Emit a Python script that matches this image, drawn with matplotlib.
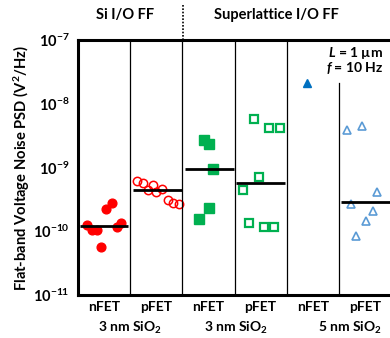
import numpy as np
import matplotlib.pyplot as plt

plt.rcParams['font.family'] = ['Lato', 'DejaVu Sans']
plt.rcParams['font.weight'] = 'bold'
plt.rcParams['mathtext.fontset'] = 'custom'
plt.rcParams['mathtext.rm'] = 'Lato:bold'
plt.rcParams['mathtext.it'] = 'Lato:bold:italic'
plt.rcParams['mathtext.bf'] = 'Lato:bold'

# column layout: 0 Si nFET, 1 Si pFET, 2 SL nFET 3nm, 3 SL pFET 3nm, 4 SL nFET 5nm, 5 SL pFET 5nm
col_labels = ["nFET", "pFET", "nFET", "pFET", "nFET", "pFET"]
ytick_vals = [1e-7, 1e-8, 1e-9, 1e-10, 1e-11]

# x offsets within each column and PSD values (V^2/Hz)
si_n_x = [0.17, 0.27, 0.36, 0.44, 0.54, 0.65, 0.75, 0.82]
si_n_y = [1.25e-10, 1.05e-10, 1.05e-10, 5.7e-11, 2.2e-10, 2.8e-10, 1.17e-10, 1.35e-10]
si_n_mean = 1.2e-10

si_p_x = [0.13, 0.25, 0.34, 0.44, 0.50, 0.61, 0.73, 0.82, 0.94]
si_p_y = [6.1e-10, 5.7e-10, 4.4e-10, 5.3e-10, 4.1e-10, 4.6e-10, 3.1e-10, 2.8e-10, 2.7e-10]
si_p_mean = 4.4e-10

sl3_n_x = [0.42, 0.51, 0.59, 0.51, 0.32]
sl3_n_y = [2.7e-9, 2.3e-9, 9.5e-10, 2.3e-10, 1.55e-10]
sl3_n_mean = 9.5e-10

sl3_p_x = [0.16, 0.28, 0.37, 0.47, 0.57, 0.66, 0.76, 0.87]
sl3_p_y = [4.4e-10, 1.35e-10, 5.8e-9, 7.1e-10, 1.17e-10, 4.2e-9, 1.17e-10, 4.2e-9]
sl3_p_mean = 5.7e-10

sl5_n_x = [0.39]
sl5_n_y = [2.1e-8]

sl5_p_x = [0.16, 0.23, 0.33, 0.44, 0.52, 0.65, 0.73]
sl5_p_y = [3.9e-9, 2.7e-10, 8.4e-11, 4.5e-9, 1.45e-10, 2.1e-10, 4.1e-10]
sl5_p_mean = 2.9e-10

fig = plt.figure(figsize=(3.9, 3.38), dpi=100)
W, H = 390, 338
ax = fig.add_axes([78 / W, 1 - 295 / H, 313 / W, 255 / H])
ax.set_yscale('log')
ax.set_ylim(1e-11, 1e-7)
ax.set_xlim(0, 6)
ax.patch.set_alpha(0)

red, green, blue, lblue = '#FF0000', '#00B050', '#0070C0', '#5B9BD5'
ax.plot(np.array(si_n_x) + 0, si_n_y, 'o', ms=6.3, color=red, mec=red)
ax.plot(np.array(si_p_x) + 1, si_p_y, 'o', ms=6, mfc='none', mec=red, mew=1.1)
ax.plot(np.array(sl3_n_x) + 2, sl3_n_y, 's', ms=6.5, color=green)
ax.plot(np.array(sl3_p_x) + 3, sl3_p_y, 's', ms=6.3, mfc='none', mec=green, mew=1.6)
ax.plot(np.array(sl5_n_x) + 4, sl5_n_y, '^', ms=6.3, color=blue)
ax.plot(np.array(sl5_p_x) + 5, sl5_p_y, '^', ms=6.3, mfc='none', mec=lblue, mew=1.2)

# mean bars: column, value, start and end within column
means = [(0, si_n_mean, 0.04, 0.96), (1, si_p_mean, 0.05, 0.99),
         (2, sl3_n_mean, 0.05, 0.99), (3, sl3_p_mean, 0.03, 0.97),
         (5, sl5_p_mean, 0.04, 1.0)]
for c, m, a, b in means:
    ax.plot([c + a, c + b], [m, m], color='black', lw=2, solid_capstyle='butt')

for xb in [1, 2, 3, 4]:
    ax.axvline(xb, color='black', lw=0.9)
ax.plot([5, 5], [1e-11, 2.1e-8], color='black', lw=0.9)

for s in ['left', 'top', 'bottom']:
    ax.spines[s].set_linewidth(2.2)
ax.spines['right'].set_visible(False)

ax.set_yticks(ytick_vals)
ax.set_yticklabels([r'$10^{%d}$' % round(np.log10(v)) for v in ytick_vals], fontsize=10.5)
ax.minorticks_off()
ax.tick_params(axis='y', length=0, pad=6)
ax.set_xticks(np.arange(6) + 0.5)
ax.set_xticklabels(col_labels, fontsize=10, fontweight='bold')
ax.tick_params(axis='x', length=0, pad=4)

ax.set_ylabel(r'Flat-band Voltage Noise PSD (V$^2$/Hz)', fontsize=10.6,
              fontweight='bold', labelpad=1)

# oxide labels below the columns
fig.text(130 / W, 1 - 328 / H, r'3 nm SiO$_2$', ha='center', va='center',
         fontsize=10, fontweight='bold')
fig.text(236 / W, 1 - 328 / H, r'3 nm SiO$_2$', ha='center', va='center',
         fontsize=10, fontweight='bold')
fig.text(350 / W, 1 - 328 / H, r'5 nm SiO$_2$', ha='center', va='center',
         fontsize=10, fontweight='bold')

# headings
fig.text(125 / W, 1 - 15 / H, 'Si I/O FF', ha='center', va='center',
         fontsize=10.5, fontweight='bold')
fig.text(276 / W, 1 - 15 / H, 'Superlattice I/O FF', ha='center', va='center',
         fontsize=10.5, fontweight='bold')
fig.add_artist(plt.Line2D([183 / W, 183 / W], [1 - 5 / H, 1 - 40 / H],
                          color='black', lw=1.2, ls=(0, (1, 1))))

ax.text(5.31, 6.2e-8, r'$\mathit{L}$ = 1 µm', ha='center', va='center',
        fontsize=10, fontweight='bold')
ax.text(5.31, 3.6e-8, r'$\mathit{f}$ = 10 Hz', ha='center', va='center',
        fontsize=10, fontweight='bold')

fig.savefig('out.png', dpi=100)
